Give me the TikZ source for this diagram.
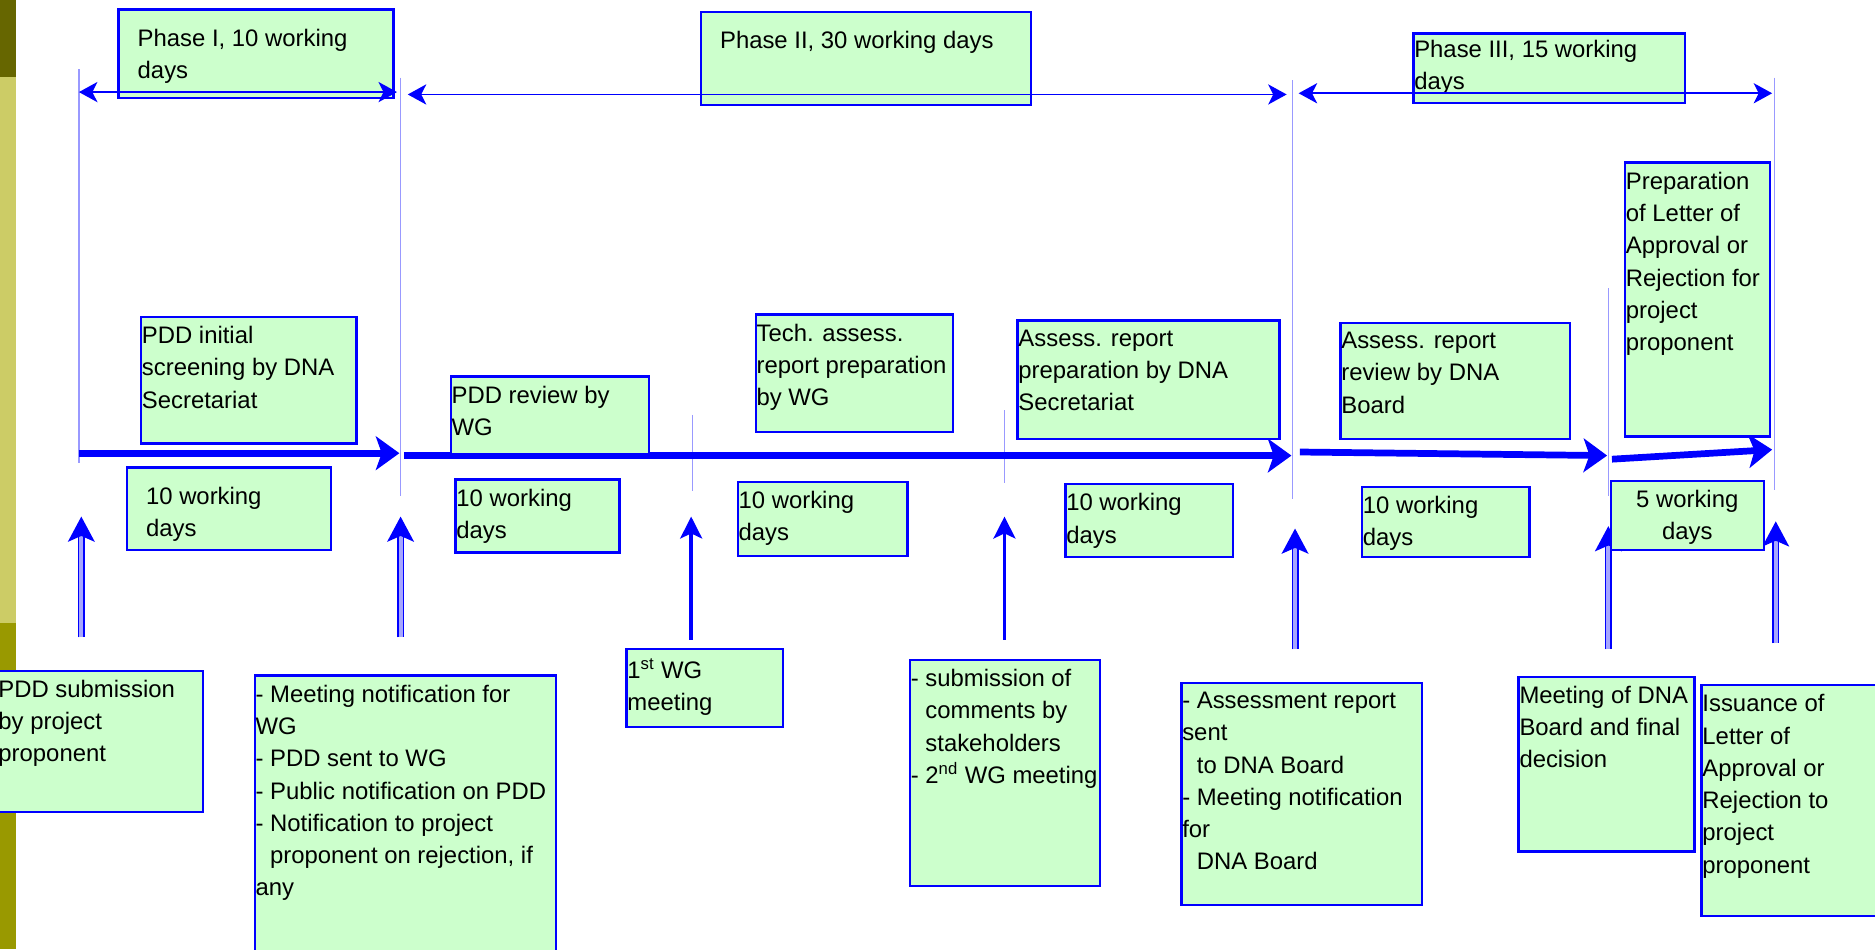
\documentclass[tikz,border=0pt]{standalone}
\usepackage{fontspec}
\setmainfont{Liberation Sans}
\usetikzlibrary{arrows.meta,fit,positioning}
\definecolor{boxgreen}{HTML}{CCFFCC}
\definecolor{olivedark}{HTML}{666600}
\definecolor{olivelight}{HTML}{CCCC66}
\definecolor{olivemid}{HTML}{999900}
\newcommand{\boxfont}{\fontsize{14.2}{19.2}\selectfont}
\tikzset{
  box/.style={draw=blue, fill=boxgreen, line width=1.4pt, inner sep=0pt},
  txt/.style={anchor=north west, align=left, font=\boxfont, inner xsep=1pt, inner ysep=6pt},
  vline/.style={draw=blue!40, line width=0.9pt},
  phasearrow/.style={draw=blue, line width=1.1pt, {Stealth[length=11pt,width=12pt,inset=3pt]}-{Stealth[length=11pt,width=12pt,inset=3pt]}},
  mainarrow/.style={draw=blue, line width=4pt, -{Stealth[length=14pt,width=20pt,inset=3.5pt]}},
  uparrow/.style={draw=blue, line width=0.9pt, double=blue!35, double distance=2.4pt, -{Stealth[length=15pt,width=16pt,inset=3.5pt]}},
  upsingle/.style={draw=blue, line width=2.2pt, -{Stealth[length=13pt,width=13pt,inset=3pt]}}
}

\begin{document}
\begin{tikzpicture}[x=0.025cm, y=-0.025cm]
    \useasboundingbox (0,0) rectangle (1568,794);
    \clip (0,0) rectangle (1568,794);
    \fill[olivedark] (0,0) rectangle (13,64);
    \fill[olivelight] (0,64) rectangle (13,521);
    \fill[olivemid] (0,521) rectangle (13,794);

    \coordinate (s0) at (66,58);    \coordinate (e0) at (66,387);
    \coordinate (s1) at (335,65);   \coordinate (e1) at (335,415);
    \coordinate (s2) at (579,347);  \coordinate (e2) at (579,411);
    \coordinate (s3) at (840,343);  \coordinate (e3) at (840,404);
    \coordinate (s4) at (1081,67);  \coordinate (e4) at (1081,417);
    \coordinate (s5) at (1345,241); \coordinate (e5) at (1345,415);
    \coordinate (s6) at (1484,65);  \coordinate (e6) at (1484,410);
    \draw[vline] (s0)-- (e0);
    \draw[vline] (s1)-- (e1);
    \draw[vline] (s2)-- (e2);
    \draw[vline] (s3)-- (e3);
    \draw[vline] (s4)-- (e4);
    \draw[vline] (s5)-- (e5);
    \draw[vline] (s6)-- (e6);

    \coordinate (u0) at (68,533);   \coordinate (t0) at (68,432);
    \coordinate (u1) at (335,533);  \coordinate (t1) at (335,432);
    \coordinate (u2) at (578,535);  \coordinate (t2) at (578,432);
    \coordinate (u3) at (840,535);  \coordinate (t3) at (840,432);
    \coordinate (u4) at (1083,543); \coordinate (t4) at (1083,442);
    \coordinate (u5) at (1345,543); \coordinate (t5) at (1345,440);
    \coordinate (u6) at (1485,538); \coordinate (t6) at (1485,436);
    \draw[uparrow] (u0)-- (t0);
    \draw[uparrow] (u1)-- (t1);
    \draw[upsingle] (u2)-- (t2);
    \draw[upsingle] (u3)-- (t3);
    \draw[uparrow] (u4)-- (t4);
    \draw[uparrow] (u5)-- (t5);
    \draw[uparrow] (u6)-- (t6);

    \coordinate (m0) at (66,379);   \coordinate (m1) at (334,379);
    \coordinate (m2) at (338,381);  \coordinate (m3) at (1080,381);
    \coordinate (m4) at (1087,378); \coordinate (m5) at (1344,381);
    \coordinate (m6) at (1348,384); \coordinate (m7) at (1482,376);
    \draw[mainarrow] (m0)-- (m1);
    \draw[mainarrow] (m2)-- (m3);
    \draw[mainarrow] (m4)-- (m5);
    \draw[mainarrow] (m6)-- (m7);

    \node[box, fit={(99,8) (329,82)}, label={[txt, inner xsep=12pt, inner ysep=12pt]north west:Phase I, 10 working\\days}] (phase1) {};
    \node[box, fit={(586,10) (862,88)}, label={[txt, inner xsep=12pt, inner ysep=12pt]north west:Phase II, 30 working days}] (phase2) {};
    \node[box, fit={(1182,28) (1409,86)}, label={[txt, inner ysep=4.5pt]north west:Phase III, 15 working\\days}] (phase3) {};

    \node[box, fit={(118,265) (298,371)}, label={[txt]north west:PDD initial\\screening by DNA\\Secretariat}] (screen) {};
    \node[box, fit={(377,315) (543,380)}, label={[txt]north west:PDD review by\\WG}] (review) {};
    \node[box, fit={(632,263) (797,361)}, label={[txt]north west:Tech. assess.\\report preparation\\by WG}] (tech) {};
    \node[box, fit={(851,268) (1070,367)}, label={[txt]north west:Assess. report\\preparation by DNA\\Secretariat}] (prep) {};
    \node[box, fit={(1121,270) (1313,367)}, label={[txt]north west:Assess. report\\review by DNA\\Board}] (boardrev) {};
    \node[box, fit={(1359,136) (1480,365)}, label={[txt]north west:Preparation\\of Letter of\\Approval or\\Rejection for\\project\\proponent}] (letter) {};

    \node[box, fit={(106,391) (277,460)}, label={[txt, inner xsep=12pt, inner ysep=12pt]north west:10 working\\days}] (d1) {};
    \node[box, fit={(381,401) (518,462)}, label={[txt]north west:10 working\\days}] (d2) {};
    \node[box, fit={(617,403) (759,465)}, label={[txt]north west:10 working\\days}] (d3) {};
    \node[box, fit={(891,405) (1031,466)}, label={[txt]north west:10 working\\days}] (d4) {};
    \node[box, fit={(1139,407) (1279,466)}, label={[txt]north west:10 working\\days}] (d5) {};
    \node[box, fit={(1347,402) (1475,460)}, label={[txt, anchor=north, align=center]north:5 working\\days}] (d6) {};

    \node[box, fit={(-2,561) (170,679)}, label={[txt]north west:PDD submission\\by project\\proponent}] (submit) {};
    \node[box, fit={(213,565) (465,800)}, label={[txt]north west:- Meeting notification for\\WG\\- PDD sent to WG\\- Public notification on PDD\\- Notification to project\\\phantom{- }proponent on rejection, if\\any}] (notify) {};
    \node[box, fit={(524,543) (655,608)}, label={[txt]north west:1\textsuperscript{st} WG\\meeting}] (wg1) {};
    \node[box, fit={(761,552) (920,741)}, label={[txt]north west:- submission of\\\phantom{- }comments by\\\phantom{- }stakeholders\\- 2\textsuperscript{nd} WG meeting}] (comments) {};
    \node[box, fit={(988,571) (1189,757)}, label={[txt]north west:- Assessment report\\sent\\\phantom{- }to DNA Board\\- Meeting notification\\for\\\phantom{- }DNA Board}] (sent) {};
    \node[box, fit={(1270,566) (1417,712)}, label={[txt]north west:Meeting of DNA\\Board and final\\decision}] (decision) {};
    \node[box, fit={(1423,573) (1600,766)}, label={[txt]north west:Issuance of\\Letter of\\Approval or\\Rejection to\\project\\proponent}] (issue) {};

    \coordinate (p0) at (66,77);    \coordinate (q0) at (332,77);
    \coordinate (p1) at (341,79);   \coordinate (q1) at (1076,79);
    \coordinate (p2) at (1086,78);  \coordinate (q2) at (1482,78);
    \draw[phasearrow] (p0)-- (q0);
    \draw[phasearrow] (p1)-- (q1);
    \draw[phasearrow] (p2)-- (q2);
\end{tikzpicture}
\end{document}
